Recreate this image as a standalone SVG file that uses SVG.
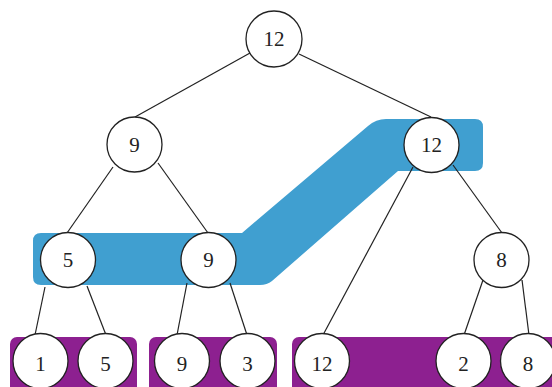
<svg xmlns="http://www.w3.org/2000/svg" width="552" height="387" viewBox="0 0 552 387">
<style>
.n circle{fill:#fff;stroke:#222;stroke-width:1.3}
.n text{font-family:"Liberation Serif",serif;font-size:21px;fill:#222;text-anchor:middle;dominant-baseline:central}
#edges line{stroke:#222;stroke-width:1.2}
.band{fill:#409fd0}
.bar{fill:#8d2090}
</style>
<rect width="552" height="387" fill="#fff"/>
<path class="band" d="M41,233 L242,233 L368,126 Q376,119 386,119 L475,119 Q483,119 483,127 L483,163 Q483,171 475,171 L398,171 L272,281 Q267,285 260,285 L41,285 Q33,285 33,277 L33,241 Q33,233 41,233 Z"/>
<rect class="bar" x="10" y="337" width="127" height="60" rx="7"/>
<rect class="bar" x="149" y="337" width="128" height="60" rx="7"/>
<rect class="bar" x="292" y="337" width="270" height="60" rx="7"/>
<g id="edges">
<line x1="250" y1="53" x2="135" y2="117"/>
<line x1="299" y1="54" x2="431" y2="117"/>
<line x1="113" y1="167" x2="67" y2="233"/>
<line x1="158" y1="163" x2="208" y2="233"/>
<line x1="413" y1="167" x2="323" y2="335"/>
<line x1="453" y1="165" x2="502" y2="233"/>
<line x1="45" y1="287" x2="35" y2="335"/>
<line x1="87" y1="286" x2="106" y2="335"/>
<line x1="187" y1="283" x2="177" y2="335"/>
<line x1="230" y1="283" x2="247" y2="335"/>
<line x1="483" y1="280" x2="464" y2="335"/>
<line x1="522" y1="280" x2="529" y2="335"/>
</g>
<g id="n-root" class="n"><circle cx="274" cy="39" r="28"/><text x="274" y="39">12</text></g>
<g id="n-l9" class="n"><circle cx="134.5" cy="144.5" r="27.5"/><text x="134.5" y="144.5">9</text></g>
<g id="n-r12" class="n"><circle cx="431.5" cy="145" r="27.5"/><text x="431.5" y="145">12</text></g>
<g id="n-5" class="n"><circle cx="68" cy="260" r="27.5"/><text x="68" y="260">5</text></g>
<g id="n-9" class="n"><circle cx="208.5" cy="260" r="27.5"/><text x="208.5" y="260">9</text></g>
<g id="n-8" class="n"><circle cx="501.5" cy="260" r="27.5"/><text x="501.5" y="260">8</text></g>
<g id="leaf-1" class="n"><circle cx="40.5" cy="361" r="27.5"/><text x="40.5" y="364">1</text></g>
<g id="leaf-5" class="n"><circle cx="105.5" cy="361" r="27.5"/><text x="105.5" y="364">5</text></g>
<g id="leaf-9" class="n"><circle cx="182" cy="361" r="27.5"/><text x="182" y="364">9</text></g>
<g id="leaf-3" class="n"><circle cx="247.5" cy="361" r="27.5"/><text x="247.5" y="364">3</text></g>
<g id="leaf-12" class="n"><circle cx="322" cy="361" r="27.5"/><text x="322" y="364">12</text></g>
<g id="leaf-2" class="n"><circle cx="463.5" cy="361" r="27.5"/><text x="463.5" y="364">2</text></g>
<g id="leaf-8" class="n"><circle cx="528" cy="361" r="27.5"/><text x="528" y="364">8</text></g>
</svg>
